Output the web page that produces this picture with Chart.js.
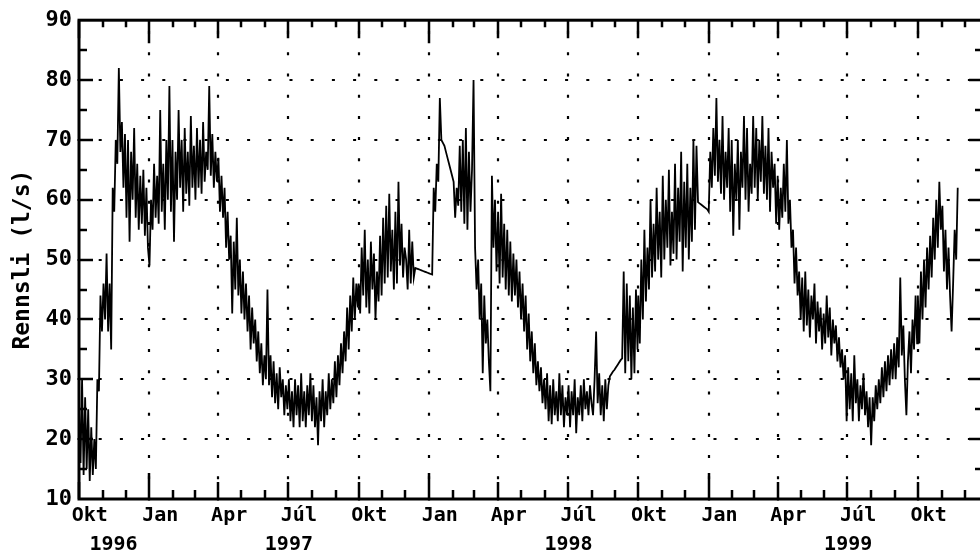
<!DOCTYPE html>
<html>
<head>
<meta charset="utf-8">
<title>Rennsli 1996-1999</title>
<script src="https://cdn.jsdelivr.net/npm/chart.js@4.4.1/dist/chart.umd.min.js"></script>
<style>
  html, body { margin: 0; padding: 0; background: #fff; overflow: hidden; }
  canvas { display: block; }
</style>
</head>
<body>
<canvas id="flowChart" width="1000" height="560"></canvas>
<script>
// day 0 = 1. okt 1996
const startDate = Date.UTC(1996, 9, 1);
function dayOf(y, m, d) { return (Date.UTC(y, m - 1, d) - startDate) / 86400000; }

// flow readings (l/s), one every 2 days from the 1st of October of each year
const sampleStep = 2;
const flow1997 = [25, 16, 30, 14, 27, 15, 25, 13, 22, 14, 20, 15, 30, 28, 44, 38, 46, 40, 51, 38,
  46, 35, 62, 58, 70, 66, 82, 68, 73, 62, 71,
  57, 70, 53, 68, 60, 72, 57, 66, 55, 64, 56, 65, 54, 62, 52,
  49, 60, 55, 66, 57, 64, 56, 75, 58, 66, 55, 70, 60, 79, 58, 70,
  53, 68, 60, 75, 62, 70, 58, 72, 61, 68, 59, 74, 62, 69,
  60, 72, 62, 70, 61, 73, 63, 68, 65, 79, 64, 71, 62, 68, 63,
  67, 58, 64, 57, 62, 52, 58, 50, 54, 41, 53, 45, 57, 44, 50,
  41, 48, 40, 46, 38, 44, 35, 42, 36, 40, 33, 38, 31, 36, 29, 34,
  30, 45, 29, 34, 27, 33, 26, 31, 25, 32, 27, 30, 24, 29, 25,
  30, 23, 28, 22, 30, 24, 29, 22, 31, 23, 28, 22, 29, 24, 31, 23,
  29, 22, 27, 19, 28, 23, 30, 22, 28, 24, 31, 25, 30, 26, 33,
  27, 34, 29, 36, 31, 38, 33, 42, 35, 44, 38, 47, 40, 46, 42];
const flow1998 = [46, 41, 52, 44, 55, 42, 50, 41, 53, 45, 51, 40, 48, 43, 54, 44,
  57, 46, 59, 47, 61, 48, 55, 45, 58, 46, 63, 49, 56, 47, 52,
  50, 45, 55, 46, 53, 47, 48.6, 48.5, 48.4, 48.3, 48.2, 48.1, 48, 47.9, 47.8,
  47.7, 47.6, 47.5, 62, 58, 66, 63, 77, 70, 69.5, 69, 68, 67, 66, 65, 64,
  63, 57, 62, 59, 69, 58, 70, 56, 72, 55, 68, 58, 65, 80,
  52, 45, 50, 40, 46, 31, 44, 36, 40, 33, 28, 64, 52, 60, 48,
  58, 46, 61, 47, 56, 45, 55, 44, 53, 43, 51, 44, 50, 42, 48,
  40, 46, 38, 44, 35, 41, 33, 38, 31, 36, 29, 33, 28, 32, 26, 30,
  25, 31, 23, 29, 22.5, 30, 24, 28, 23, 31, 24, 29, 22, 27, 24,
  29, 22, 28, 24, 30, 21, 27, 24, 29, 23, 30, 25, 28, 24, 29, 26,
  24, 30, 38, 26, 31, 24, 29, 23, 30, 25, 29, 30.5, 30.9, 31.3, 31.6,
  32, 32.4, 32.8, 33.2, 33.5, 48, 31, 46, 33, 44, 30, 42, 31, 45, 35];
const flow1999 = [44, 36, 50, 40, 55, 43, 52, 45, 60, 47, 56, 48, 62, 50, 58, 47,
  64, 50, 60, 52, 65, 49, 58, 51, 66, 50, 62, 53, 68, 48, 63,
  52, 66, 50, 62, 53, 70, 55, 69, 59.6, 59.4, 59.2, 59, 58.8, 58.6, 58.4,
  58, 68, 62, 72, 64, 77, 63, 70, 61, 74, 60, 68, 62, 72, 58, 70,
  54, 66, 60, 70, 55, 68, 62, 74, 60, 72, 58, 66, 61, 74,
  62, 72, 60, 70, 63, 74, 61, 69, 60, 72, 58, 68, 62, 66, 56,
  64, 55, 62, 57, 66, 58, 70, 56, 60, 52, 55, 46, 52, 44, 48,
  40, 47, 38, 48, 39, 45, 37, 44, 40, 46, 36, 43, 38, 42, 35, 41,
  36, 44, 37, 42, 34, 40, 36, 39, 33, 37, 32, 35, 30, 34, 23,
  32, 25, 31, 23, 34, 26, 30, 23, 29, 25, 31, 24, 28, 22, 27, 19,
  27, 23, 29, 25, 30, 26, 32, 27, 33, 28, 34, 29, 35, 30, 36,
  30, 37, 32, 47, 34, 39, 30, 24, 33, 38, 31, 40, 35, 44, 36];
const flow2000 = [44, 36, 48, 40, 50, 42, 52, 45, 54, 47, 57, 50, 60, 52, 63,
  55, 59, 48, 55, 45, 52, 44, 38, 46, 55, 50, 62];

const seriesStarts = [dayOf(1996, 10, 1), dayOf(1997, 10, 1), dayOf(1998, 10, 1), dayOf(1999, 10, 1)];
const seriesValues = [flow1997, flow1998, flow1999, flow2000];

// axis labels
const quarterMonths = [[1996, 10], [1997, 1], [1997, 4], [1997, 7], [1997, 10], [1998, 1], [1998, 4],
  [1998, 7], [1998, 10], [1999, 1], [1999, 4], [1999, 7], [1999, 10]];
const quarterLabels = ['Okt', 'Jan', 'Apr', 'Júl', 'Okt', 'Jan', 'Apr', 'Júl', 'Okt', 'Jan', 'Apr', 'Júl', 'Okt'];
const yearLabels = ['1996', '1997', '1998', '1999'];
const yearCentres = [[1996, 11, 15], [1997, 7, 2], [1998, 7, 2], [1999, 7, 2]];
const yTicks = [10, 20, 30, 40, 50, 60, 70, 80, 90];

const points = [];
seriesValues.forEach((vals, s) => {
  vals.forEach((v, i) => points.push({ x: seriesStarts[s] + i * sampleStep, y: v }));
});

const labelTicks = [];
quarterMonths.forEach(([y, m], i) => labelTicks.push({ value: dayOf(y, m, 15), label: quarterLabels[i] }));
yearCentres.forEach(([y, m, d], i) => labelTicks.push({ value: dayOf(y, m, d), label: ['', yearLabels[i]] }));
labelTicks.sort((a, b) => a.value - b.value);

const monoFont = '"DejaVu Sans Mono", "Liberation Mono", monospace';

// dotted grid, inward tick marks and the box
const axisDecor = {
  id: 'axisDecor',
  beforeDatasetsDraw(chart) {
    const { ctx, chartArea: a, scales: { x, y } } = chart;
    ctx.save();
    ctx.strokeStyle = '#000';
    ctx.lineWidth = 2.2;
    ctx.setLineDash([3, 18.2]);
    yTicks.slice(1, -1).forEach(v => {
      const py = Math.round(y.getPixelForValue(v));
      ctx.beginPath(); ctx.moveTo(a.left - 1.5, py); ctx.lineTo(a.right, py); ctx.stroke();
    });
    quarterMonths.slice(1).forEach(([yr, m]) => {
      const px = Math.round(x.getPixelForValue(dayOf(yr, m, 1)));
      ctx.beginPath(); ctx.moveTo(px, a.bottom + 1.5); ctx.lineTo(px, a.top); ctx.stroke();
    });
    ctx.restore();
  },
  afterDatasetsDraw(chart) {
    const { ctx, chartArea: a, scales: { x, y } } = chart;
    ctx.save();
    ctx.strokeStyle = '#000';
    ctx.lineWidth = 2.5;
    for (let k = 0; ; k++) {
      const yr = 1996 + Math.floor((9 + k) / 12), m = (9 + k) % 12 + 1;
      const d = dayOf(yr, m, 1);
      if (d > x.max) break;
      const px = Math.round(x.getPixelForValue(d));
      const bottomLen = m === 1 ? 26 : (m % 3 === 1 ? 17 : 9);
      const topLen = m === 1 ? 23 : (m % 3 === 1 ? 18 : 7);
      ctx.beginPath();
      ctx.moveTo(px, a.bottom); ctx.lineTo(px, a.bottom - bottomLen);
      ctx.moveTo(px, a.top); ctx.lineTo(px, a.top + topLen);
      ctx.stroke();
    }
    for (let v = 15; v < 90; v += 5) {
      const py = Math.round(y.getPixelForValue(v));
      const len = v % 10 === 0 ? 14 : 8;
      ctx.beginPath();
      ctx.moveTo(a.left, py); ctx.lineTo(a.left + len, py);
      ctx.moveTo(a.right, py); ctx.lineTo(a.right - len, py);
      ctx.stroke();
    }
    ctx.lineWidth = 3;
    ctx.strokeRect(a.left, a.top, a.right - a.left, a.bottom - a.top);
    ctx.restore();
  }
};

new Chart(document.getElementById('flowChart'), {
  type: 'line',
  data: {
    datasets: [{
      data: points,
      borderColor: '#000',
      borderWidth: 1.8,
      pointRadius: 0,
      tension: 0,
      fill: false
    }]
  },
  options: {
    responsive: false,
    animation: false,
    layout: { padding: { left: 0, top: 15, right: 17, bottom: 0 } },
    plugins: { legend: { display: false }, tooltip: { enabled: false } },
    scales: {
      x: {
        type: 'linear',
        min: 0,
        max: 1180,
        grid: { display: false, drawTicks: false },
        border: { display: false },
        afterBuildTicks: scale => { scale.ticks = labelTicks.map(t => ({ value: t.value })); },
        afterFit: scale => { scale.height = 61; },
        ticks: {
          autoSkip: false,
          maxRotation: 0,
          padding: 2,
          color: '#000',
          font: { family: monoFont, size: 20, weight: 'bold', lineHeight: 1.45 },
          callback: (value, index) => labelTicks[index].label
        }
      },
      y: {
        min: 10,
        max: 90,
        grid: { display: false, drawTicks: false },
        border: { display: false },
        afterBuildTicks: scale => { scale.ticks = yTicks.map(v => ({ value: v })); },
        afterFit: scale => { scale.width = 79; },
        ticks: {
          padding: 7,
          color: '#000',
          font: { family: monoFont, size: 22, weight: 'bold' }
        },
        title: {
          display: true,
          text: 'Rennsli (l/s)',
          color: '#000',
          padding: { top: 9, bottom: 0 },
          font: { family: monoFont, size: 23, weight: 'bold' }
        }
      }
    }
  },
  plugins: [axisDecor]
});
</script>
</body>
</html>
